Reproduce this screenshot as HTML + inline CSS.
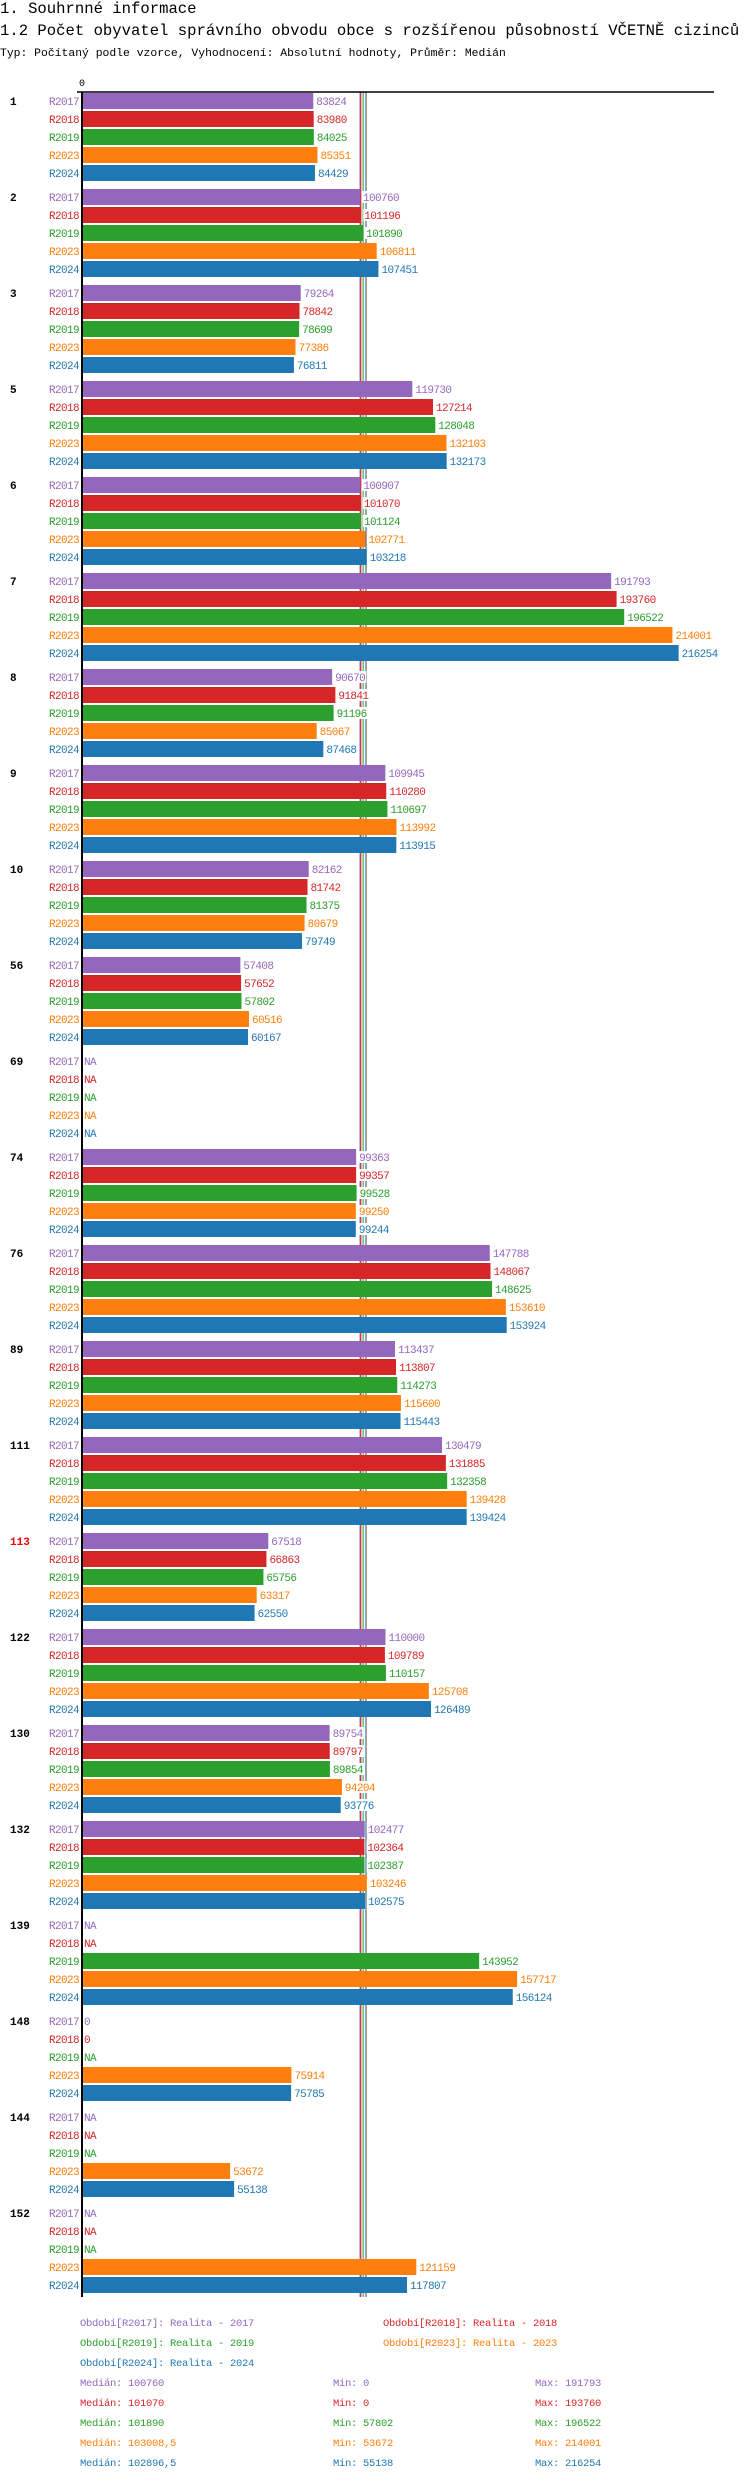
<!DOCTYPE html>
<html><head><meta charset="utf-8">
<style>
body{margin:0;background:#fff;}
svg text{font-family:"Liberation Mono","DejaVu Sans Mono",monospace;}
</style></head>
<body>
<svg id="chart" width="750" height="2480" viewBox="0 0 750 2480" xmlns="http://www.w3.org/2000/svg">
<text x="0" y="13" font-size="15.6">1. Souhrnné informace</text>
<text x="0" y="35" font-size="15.6">1.2 Počet obyvatel správního obvodu obce s rozšířenou působností VČETNĚ cizinců</text>
<text x="0" y="56" font-size="11.4">Typ: Počítaný podle vzorce, Vyhodnocení: Absolutní hodnoty, Průměr: Medián</text>
<g id="lines"></g><g id="bars"></g><g id="legend"></g>
</svg>
<script>
const categories=["1","2","3","5","6","7","8","9","10","56","69","74","76","89","111","113","122","130","132","139","148","144","152"];
const seriesNames=["R2017","R2018","R2019","R2023","R2024"];
const colors=["#9467bd","#d62728","#2ca02c","#ff7f0e","#1f77b4"];
const s2017=[83824,100760,79264,119730,100907,191793,90670,109945,82162,57408,null,99363,147788,113437,130479,67518,110000,89754,102477,null,0,null,null];
const s2018=[83980,101196,78842,127214,101070,193760,91841,110280,81742,57652,null,99357,148067,113807,131885,66863,109789,89797,102364,null,0,null,null];
const s2019=[84025,101890,78699,128048,101124,196522,91196,110697,81375,57802,null,99528,148625,114273,132358,65756,110157,89854,102387,143952,null,null,null];
const s2023=[85351,106811,77386,132103,102771,214001,85067,113992,80679,60516,null,99250,153610,115600,139428,63317,125708,94204,103246,157717,75914,53672,121159];
const s2024=[84429,107451,76811,132173,103218,216254,87468,113915,79749,60167,null,99244,153924,115443,139424,62550,126489,93776,102575,156124,75785,55138,117807];
const medians=[100760,101070,101890,103008.5,102896.5];
const medianLabels=["100760","101070","101890","103008,5","102896,5"];
const mins=["0","0","57802","53672","55138"];
const maxs=["191793","193760","196522","214001","216254"];
const legendLabels=["Období[R2017]: Realita - 2017","Období[R2018]: Realita - 2018","Období[R2019]: Realita - 2019","Období[R2023]: Realita - 2023","Období[R2024]: Realita - 2024"];
const series=[s2017,s2018,s2019,s2023,s2024];

const NS="http://www.w3.org/2000/svg";
const X0=82, K=(360-82)/100760, TOP=93, GP=96, RP=18, BH=16;
const x=v=>X0+v*K;
const rowY=(g,r)=>TOP+g*GP+r*RP;
function mk(tag,attrs,parent){const e=document.createElementNS(NS,tag);for(const k in attrs)e.setAttribute(k,attrs[k]);parent.appendChild(e);return e;}
const svg=document.getElementById('chart');
const L=document.getElementById('lines'),B=document.getElementById('bars'),G=document.getElementById('legend');
const bottom=rowY(categories.length-1,5)+2;
medians.forEach((m,i)=>{const l=mk('line',{x1:x(m),x2:x(m),y1:92,y2:bottom,stroke:colors[i],'stroke-width':1},L);

});
const ax=mk('line',{x1:77,x2:714,y1:92,y2:92,stroke:'#000','stroke-width':1.5},L);


const zl=mk('line',{x1:X0,x2:X0,y1:92,y2:bottom,stroke:'#000','stroke-width':2},svg);


const zt=mk('text',{x:X0,y:86,'font-size':10,'text-anchor':'middle'},svg);zt.textContent='0';


categories.forEach((c,g)=>{
  const gl=mk('text',{x:10,y:rowY(g,0)+12,'font-size':11,'font-weight':'bold',fill:c==="113"?"#e00":"#000"},B);gl.textContent=c;
  
  
  series.forEach((s,r)=>{
    const y=rowY(g,r),v=s[g];
    const lab=mk('text',{x:79,y:y+12,'font-size':11,'letter-spacing':'-0.6','text-anchor':'end',fill:colors[r]},B);lab.textContent=seriesNames[r];
    
    
    let ex=X0+2;
    if(v!==null&&v>0){
      const b=mk('rect',{x:X0+1,y:y,width:x(v)-X0-1,height:BH,fill:colors[r]},B);
      
      
      ex=x(v)+3;
    }
    const t=v===null?'NA':String(v);
    const bg=mk('rect',{x:ex-1,y:y+2,width:t.length*6+2,height:12,fill:'#fff'},B);
    
    
    const vt=mk('text',{x:ex,y:y+12,'font-size':11,'letter-spacing':'-0.6',fill:colors[r]},B);vt.textContent=t;
    
    
  });
});
const lp=[[80,2326],[383,2326],[80,2346],[383,2346],[80,2366]];
legendLabels.forEach((t,i)=>{const e=mk('text',{x:lp[i][0],y:lp[i][1],'font-size':10.5,'letter-spacing':'-0.3',fill:colors[i]},G);e.textContent=t;

});
medianLabels.forEach((m,i)=>{const y=2386+i*20;
 const a=mk('text',{x:80,y:y,'font-size':10.5,'letter-spacing':'-0.3',fill:colors[i]},G);a.textContent='Medián: '+m;
 
 
 const b=mk('text',{x:333,y:y,'font-size':10.5,'letter-spacing':'-0.3',fill:colors[i]},G);b.textContent='Min: '+mins[i];
 
 
 const d=mk('text',{x:535,y:y,'font-size':10.5,'letter-spacing':'-0.3',fill:colors[i]},G);d.textContent='Max: '+maxs[i];
 
 
});
</script>
</body></html>
